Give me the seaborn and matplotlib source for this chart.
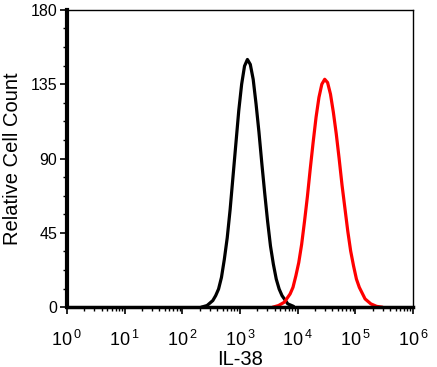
import numpy as np
import pandas as pd
import seaborn as sns
import matplotlib.pyplot as plt
from matplotlib.ticker import FixedLocator, LogLocator, NullFormatter

# control histogram (black), x as log10 of intensity
ctrl_log = [2.33, 2.43, 2.53, 2.58, 2.63, 2.68, 2.73, 2.78, 2.83, 2.88, 2.93, 2.98, 3.03, 3.08, 3.13,
            3.18, 3.23, 3.28, 3.33, 3.38, 3.43, 3.48, 3.53, 3.58, 3.63, 3.68, 3.73, 3.83, 3.93]
ctrl_cnt = [0, 1, 4, 7, 11, 18, 29, 42, 59, 79, 99, 119, 135, 146, 150,
            147, 138, 123, 106, 87, 69, 52, 37, 26, 17, 11, 7, 2, 0.5]

# IL-38 histogram (red)
il38_log = [3.57, 3.67, 3.77, 3.87, 3.92, 3.97, 4.02, 4.07, 4.12, 4.17, 4.22, 4.27, 4.32, 4.37, 4.42, 4.47,
            4.52, 4.57, 4.62, 4.67, 4.72, 4.77, 4.82, 4.87, 4.92, 4.97, 5.02, 5.07, 5.17, 5.27, 5.37, 5.47]
il38_cnt = [0, 1, 3, 8, 12, 19, 27, 38, 52, 67, 84, 100, 115, 127, 135, 138,
            136, 129, 118, 105, 90, 74, 60, 46, 34, 25, 17, 12, 5, 2, 0.5, 0]

df = pd.concat([
    pd.DataFrame({"x": np.power(10.0, ctrl_log), "y": ctrl_cnt, "s": "ctrl"}),
    pd.DataFrame({"x": np.power(10.0, il38_log), "y": il38_cnt, "s": "IL-38"}),
])

sns.set_theme(style="white")
plt.rcParams['font.family'] = ['Liberation Sans', 'DejaVu Sans']
plt.rcParams['mathtext.fontset'] = 'custom'
plt.rcParams['mathtext.rm'] = 'Liberation Sans'
plt.rcParams['text.color'] = 'black'
plt.rcParams['axes.labelcolor'] = 'black'
plt.rcParams['xtick.color'] = 'black'
plt.rcParams['ytick.color'] = 'black'

fig = plt.figure(figsize=(4.37, 3.67), dpi=100)
ax = fig.add_axes([0.153, 0.163, 0.792, 0.810])

sns.lineplot(data=df, x="x", y="y", hue="s", palette={"ctrl": "black", "IL-38": "#ff0000"},
             linewidth=2.3, legend=False, ax=ax, sort=False)

ax.set_xscale("log")
ax.set_xlim(1, 1e6)
ax.set_ylim(0, 180)

ax.set_xticks([10 ** i for i in range(7)])
ax.xaxis.set_minor_locator(LogLocator(base=10, subs=np.arange(2, 10), numticks=20))
ax.xaxis.set_minor_formatter(NullFormatter())
ax.set_xticklabels([r"$10^{\,%d}$" % i for i in range(7)], fontsize=13)

ax.set_yticks([0, 45, 90, 135, 180])
ax.yaxis.set_minor_locator(FixedLocator(np.arange(0, 181, 11.25)))
ax.tick_params(axis="y", labelsize=11.5, pad=2)

ax.tick_params(which="major", direction="out", length=5, width=1.2, bottom=True, left=True)
ax.tick_params(which="minor", direction="out", length=3, width=1.0, bottom=True, left=True)
ax.tick_params(axis="x", pad=11)

for side in ["top", "right"]:
    ax.spines[side].set_linewidth(1.0)
    ax.spines[side].set_color("black")
ax.spines["left"].set_linewidth(3.0)
ax.spines["bottom"].set_linewidth(2.5)
ax.spines["left"].set_color("black")
ax.spines["bottom"].set_color("black")

ax.set_xlabel("IL-38", fontsize=14.5, labelpad=0)
ax.set_ylabel("Relative Cell Count", fontsize=14.5, labelpad=6)

fig.savefig("out.png", dpi=100)
